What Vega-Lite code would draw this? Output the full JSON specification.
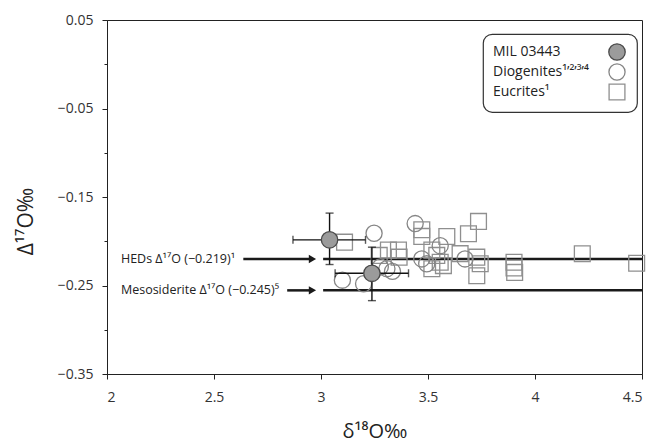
{
  "$schema": "https://vega.github.io/schema/vega-lite/v6.json",
  "width": 535,
  "height": 354,
  "autosize": "none",
  "padding": {"left": 107, "top": 20, "right": 14, "bottom": 70},
  "background": "white",
  "datasets": {
    "lines": [
      {"x": 3.01, "xe": 4.5, "y": -0.22},
      {"x": 3.01, "xe": 4.5, "y": -0.2555}
    ],
    "arrows": [
      {"x": 2.637, "xe": 2.96, "tx": 2.065, "y": -0.22, "label": "HEDs Δ¹⁷O (−0.219)¹"},
      {"x": 2.842, "xe": 2.96, "tx": 2.065, "y": -0.2555, "label": "Mesosiderite Δ¹⁷O (−0.245)⁵"}
    ],
    "pts": [
      {"series": "Eucrites¹", "x": 3.11, "y": -0.201},
      {"series": "Eucrites¹", "x": 3.272, "y": -0.216},
      {"series": "Eucrites¹", "x": 3.315, "y": -0.21},
      {"series": "Eucrites¹", "x": 3.362, "y": -0.21},
      {"series": "Eucrites¹", "x": 3.365, "y": -0.218},
      {"series": "Eucrites¹", "x": 3.471, "y": -0.187},
      {"series": "Eucrites¹", "x": 3.471, "y": -0.1945},
      {"series": "Eucrites¹", "x": 3.588, "y": -0.1946},
      {"series": "Eucrites¹", "x": 3.518, "y": -0.21},
      {"series": "Eucrites¹", "x": 3.541, "y": -0.216},
      {"series": "Eucrites¹", "x": 3.557, "y": -0.2237},
      {"series": "Eucrites¹", "x": 3.518, "y": -0.231},
      {"series": "Eucrites¹", "x": 3.572, "y": -0.2275},
      {"series": "Eucrites¹", "x": 3.65, "y": -0.214},
      {"series": "Eucrites¹", "x": 3.689, "y": -0.1916},
      {"series": "Eucrites¹", "x": 3.736, "y": -0.1776},
      {"series": "Eucrites¹", "x": 3.728, "y": -0.218},
      {"series": "Eucrites¹", "x": 3.744, "y": -0.2255},
      {"series": "Eucrites¹", "x": 3.728, "y": -0.239},
      {"series": "Eucrites¹", "x": 3.902, "y": -0.2237},
      {"series": "Eucrites¹", "x": 3.902, "y": -0.2303},
      {"series": "Eucrites¹", "x": 3.905, "y": -0.2352},
      {"series": "Eucrites¹", "x": 4.221, "y": -0.2142},
      {"series": "Eucrites¹", "x": 4.475, "y": -0.2248},
      {"series": "Diogenites¹’²’³’⁴", "x": 3.248, "y": -0.191},
      {"series": "Diogenites¹’²’³’⁴", "x": 3.44, "y": -0.18},
      {"series": "Diogenites¹’²’³’⁴", "x": 3.1, "y": -0.244},
      {"series": "Diogenites¹’²’³’⁴", "x": 3.199, "y": -0.248},
      {"series": "Diogenites¹’²’³’⁴", "x": 3.277, "y": -0.229},
      {"series": "Diogenites¹’²’³’⁴", "x": 3.308, "y": -0.231},
      {"series": "Diogenites¹’²’³’⁴", "x": 3.334, "y": -0.234},
      {"series": "Diogenites¹’²’³’⁴", "x": 3.471, "y": -0.22},
      {"series": "Diogenites¹’²’³’⁴", "x": 3.494, "y": -0.2255},
      {"series": "Diogenites¹’²’³’⁴", "x": 3.557, "y": -0.205},
      {"series": "Diogenites¹’²’³’⁴", "x": 3.673, "y": -0.22}
    ],
    "mil": [
      {"series": "MIL 03443", "x": 3.04, "y": -0.1984, "xlo": 2.869, "xhi": 3.208, "ylo": -0.2263, "yhi": -0.1682},
      {"series": "MIL 03443", "x": 3.238, "y": -0.2362, "xlo": 3.066, "xhi": 3.409, "ylo": -0.2671, "yhi": -0.2067}
    ]
  },
  "encoding": {
    "x": {
      "field": "x", "type": "quantitative",
      "scale": {"domain": [2, 4.5], "nice": false, "zero": false},
      "axis": {
        "title": "δ¹⁸O‰", "values": [2, 2.5, 3, 3.5, 4, 4.5], "format": "~g",
        "labelPadding": 11, "titleFontSize": 20, "titleBaseline": "alphabetic", "titleY": 63
      }
    },
    "y": {
      "field": "y", "type": "quantitative",
      "scale": {"domain": [-0.35, 0.05], "nice": false, "zero": false},
      "axis": {
        "title": "Δ¹⁷O‰",
        "values": [0.05, 0, -0.05, -0.1, -0.15, -0.2, -0.25, -0.3, -0.35],
        "labelExpr": "abs(datum.value*10 - round(datum.value*10)) < 0.001 ? '' : format(datum.value, '.2f')",
        "tickSize": {"condition": {"test": "abs(datum.value*10 - round(datum.value*10)) < 0.001", "value": 3}, "value": 5},
        "labelPadding": 9, "titleFontSize": 21, "titleBaseline": "alphabetic", "titleAngle": -90,
        "titleX": -75, "titleY": 201, "titleAlign": "center"
      }
    }
  },
  "layer": [
    {
      "data": {"name": "lines"},
      "mark": {"type": "rule", "color": "#1a1a1a", "strokeWidth": 2.5},
      "encoding": {"x2": {"field": "xe"}}
    },
    {
      "data": {"name": "arrows"},
      "mark": {"type": "rule", "color": "#1a1a1a", "strokeWidth": 2.5},
      "encoding": {"x2": {"field": "xe"}}
    },
    {
      "data": {"name": "arrows"},
      "mark": {"type": "point", "shape": "triangle-right", "filled": true, "color": "#1a1a1a", "opacity": 1, "size": 70},
      "encoding": {"x": {"field": "xe", "type": "quantitative", "scale": {"domain": [2, 4.5], "nice": false, "zero": false}}}
    },
    {
      "data": {"name": "arrows"},
      "mark": {"type": "text", "align": "left", "baseline": "middle", "font": "Open Sans", "fontSize": 12.5, "color": "#222"},
      "encoding": {
        "x": {"field": "tx", "type": "quantitative", "scale": {"domain": [2, 4.5], "nice": false, "zero": false}},
        "text": {"field": "label"}
      }
    },
    {
      "data": {"name": "pts"},
      "mark": {"type": "point", "filled": true, "opacity": 1, "strokeWidth": 1.3},
      "encoding": {
        "shape": {"field": "series", "type": "nominal", "title": null, "scale": {"domain": ["MIL 03443", "Diogenites¹’²’³’⁴", "Eucrites¹"], "range": ["circle", "circle", "square"]}},
        "fill": {"field": "series", "type": "nominal", "title": null, "scale": {"domain": ["MIL 03443", "Diogenites¹’²’³’⁴", "Eucrites¹"], "range": ["#9b9b9b", "transparent", "transparent"]}},
        "stroke": {"field": "series", "type": "nominal", "title": null, "scale": {"domain": ["MIL 03443", "Diogenites¹’²’³’⁴", "Eucrites¹"], "range": ["#4a4a4a", "#858585", "#8f8f8f"]}},
        "size": {"field": "series", "type": "nominal", "title": null, "scale": {"domain": ["MIL 03443", "Diogenites¹’²’³’⁴", "Eucrites¹"], "range": [270, 250, 170]}}
      }
    },
    {
      "data": {"name": "mil"},
      "mark": {"type": "rule", "color": "#111", "strokeWidth": 1.4},
      "encoding": {
        "x": {"field": "xlo", "type": "quantitative", "scale": {"domain": [2, 4.5], "nice": false, "zero": false}},
        "x2": {"field": "xhi"}
      }
    },
    {
      "data": {"name": "mil"},
      "mark": {"type": "rule", "color": "#111", "strokeWidth": 1.4},
      "encoding": {
        "y": {"field": "ylo", "type": "quantitative", "scale": {"domain": [-0.35, 0.05], "nice": false, "zero": false}},
        "y2": {"field": "yhi"}
      }
    },
    {
      "data": {"name": "mil"},
      "mark": {"type": "tick", "orient": "vertical", "color": "#111", "size": 8, "thickness": 1.4},
      "encoding": {"x": {"field": "xlo", "type": "quantitative", "scale": {"domain": [2, 4.5], "nice": false, "zero": false}}}
    },
    {
      "data": {"name": "mil"},
      "mark": {"type": "tick", "orient": "vertical", "color": "#111", "size": 8, "thickness": 1.4},
      "encoding": {"x": {"field": "xhi", "type": "quantitative", "scale": {"domain": [2, 4.5], "nice": false, "zero": false}}}
    },
    {
      "data": {"name": "mil"},
      "mark": {"type": "tick", "orient": "horizontal", "color": "#111", "size": 8, "thickness": 1.4},
      "encoding": {"y": {"field": "ylo", "type": "quantitative", "scale": {"domain": [-0.35, 0.05], "nice": false, "zero": false}}}
    },
    {
      "data": {"name": "mil"},
      "mark": {"type": "tick", "orient": "horizontal", "color": "#111", "size": 8, "thickness": 1.4},
      "encoding": {"y": {"field": "yhi", "type": "quantitative", "scale": {"domain": [-0.35, 0.05], "nice": false, "zero": false}}}
    },
    {
      "data": {"name": "mil"},
      "mark": {"type": "point", "filled": true, "opacity": 1, "strokeWidth": 1.3},
      "encoding": {
        "shape": {"field": "series", "type": "nominal", "title": null, "scale": {"domain": ["MIL 03443", "Diogenites¹’²’³’⁴", "Eucrites¹"], "range": ["circle", "circle", "square"]}},
        "fill": {"field": "series", "type": "nominal", "title": null, "scale": {"domain": ["MIL 03443", "Diogenites¹’²’³’⁴", "Eucrites¹"], "range": ["#9b9b9b", "transparent", "transparent"]}},
        "stroke": {"field": "series", "type": "nominal", "title": null, "scale": {"domain": ["MIL 03443", "Diogenites¹’²’³’⁴", "Eucrites¹"], "range": ["#4a4a4a", "#858585", "#8f8f8f"]}},
        "size": {"field": "series", "type": "nominal", "title": null, "scale": {"domain": ["MIL 03443", "Diogenites¹’²’³’⁴", "Eucrites¹"], "range": [270, 250, 170]}}
      }
    }
  ],
  "config": {
    "view": {"stroke": "#222", "strokeWidth": 1},
    "axis": {
      "grid": false, "domainColor": "#222", "tickColor": "#222", "tickSize": 5,
      "labelFont": "Open Sans", "labelFontSize": 14, "labelColor": "#333",
      "titleFont": "Open Sans", "titleFontWeight": "normal", "titleColor": "#222"
    },
    "legend": {
      "orient": "none", "legendX": 376, "legendY": 14,
      "fillColor": "white", "strokeColor": "#333", "strokeWidth": 1.2, "cornerRadius": 9, "padding": 9,
      "labelFont": "Open Sans", "labelFontSize": 14, "labelColor": "#222", "labelLimit": 300,
      "symbolOffset": 116, "labelOffset": -133, "rowPadding": -3, "symbolStrokeWidth": 1.3
    }
  }
}
